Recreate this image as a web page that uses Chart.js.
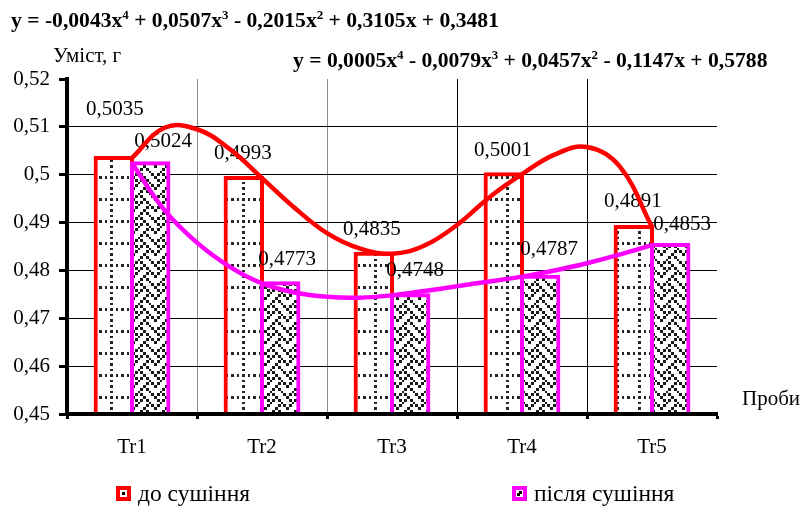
<!DOCTYPE html>
<html>
<head>
<meta charset="utf-8">
<script src="https://cdn.jsdelivr.net/npm/chart.js@4.4.1/dist/chart.umd.min.js"></script>
<style>
  html, body { margin: 0; padding: 0; background: #fff; }
  #wrap { position: relative; width: 803px; height: 506px; overflow: hidden;
          font-family: "Liberation Serif", "Times New Roman", serif; color: #000; }
  #chart { position: absolute; left: 0; top: 0; }
  .txt { position: absolute; white-space: nowrap; line-height: 1; }
  .eq { font-weight: bold; font-size: 21.6px; }
  .eq sup { font-size: 0.6em; vertical-align: 0.6em; line-height: 0; }
  .axis-title { font-size: 21px; }
  .legend-item { position: absolute; display: flex; align-items: center; font-size: 23.5px; line-height: 1; white-space: nowrap; }
  .swatch { width: 15px; height: 15px; box-sizing: border-box; border: 4px solid; background: #fff; position: relative; margin-right: 7px; }
  .swatch i { position: absolute; width: 3px; height: 3px; background: #000; }
</style>
</head>
<body>
<div id="wrap">
  <canvas id="chart" width="803" height="506"></canvas>
  <div class="txt eq" style="left:11px; top:10px;">y = -0,0043x<sup>4</sup> + 0,0507x<sup>3</sup> - 0,2015x<sup>2</sup> + 0,3105x + 0,3481</div>
  <div class="txt eq" style="left:293px; top:50px;">y = 0,0005x<sup>4</sup> - 0,0079x<sup>3</sup> + 0,0457x<sup>2</sup> - 0,1147x + 0,5788</div>
  <div class="txt axis-title" style="left:53px; top:45px;">Уміст, г</div>
  <div class="txt axis-title" style="left:742px; top:388px;">Проби</div>
  <div class="legend-item" style="left:116px; top:482px;">
    <span class="swatch" style="border-color:#ff0000;"><i style="left:2px; top:2px;"></i></span>до сушіння
  </div>
  <div class="legend-item" style="left:512px; top:482px;">
    <span class="swatch" style="border-color:#ff00ff;"><i style="left:3px; top:1px;"></i><i style="left:1px; top:3px;"></i></span>після сушіння
  </div>
</div>
<script>
// Samples and measured content (g)
const categories = ['Tr1', 'Tr2', 'Tr3', 'Tr4', 'Tr5'];
const beforeDrying = [0.5035, 0.4993, 0.4835, 0.5001, 0.4891];
const afterDrying = [0.5024, 0.4773, 0.4748, 0.4787, 0.4853];

// Polynomial trend lines (4th order), sampled along the sample axis
const trendSteps = [1, 1.25, 1.5, 1.75, 2, 2.25, 2.5, 2.75, 3, 3.25, 3.5, 3.75, 4, 4.25, 4.5, 4.75, 5];
const beforeTrend = [0.5035, 0.5098, 0.5095, 0.5054, 0.4993, 0.4931, 0.4878, 0.4846, 0.4835,
                     0.4852, 0.4895, 0.4953, 0.5001, 0.5042, 0.5058, 0.5018, 0.4891];
const afterTrend = [0.5024, 0.4926, 0.4858, 0.4808, 0.4773, 0.4754, 0.4745, 0.4743, 0.4748,
                    0.4757, 0.4767, 0.4777, 0.4787, 0.4800, 0.4815, 0.4833, 0.4853];

// Value axis
const yMin = 0.45, yMax = 0.52, yStep = 0.01;

const FONT = '"Liberation Serif", "Times New Roman", serif';
const comma = v => String(v).replace('.', ',');

// 8x8 hatch bitmaps, scaled up with hard edges
const dottedGrid = ['10101010', '00000000', '10000000', '00000000',
                    '10000000', '00000000', '10000000', '00000000'];
const weave = ['10001000', '01010100', '00100010', '01000101',
               '10001000', '00010100', '00100010', '01010001'];

const canvas = document.getElementById('chart');
const ctx = canvas.getContext('2d');

function hatch(bits, ink, tile) {
  const small = document.createElement('canvas');
  small.width = 8; small.height = 8;
  const s = small.getContext('2d');
  s.fillStyle = '#fff'; s.fillRect(0, 0, 8, 8);
  s.fillStyle = ink;
  bits.forEach((row, y) => { for (let x = 0; x < 8; x++) if (row[x] === '1') s.fillRect(x, y, 1, 1); });
  const big = document.createElement('canvas');
  big.width = tile; big.height = tile;
  const b = big.getContext('2d');
  b.imageSmoothingEnabled = false;
  b.drawImage(small, 0, 0, tile, tile);
  return ctx.createPattern(big, 'repeat');
}

// Category number (1..n) for each sample
const sampleNo = categories.map((_, i) => i + 1);

// Each pair of bars sits side by side around its category centre
const barWidth = 36.4;
const barShift = barWidth / 2 / 130;

const BARS_BEFORE = 0, BARS_AFTER = 1;

// Value labels above the bars, painted before the trend lines
const barValueLabels = {
  id: 'barValueLabels',
  afterDatasetDraw(chart, args, opts) {
    if (args.index !== BARS_AFTER) return;
    const c = chart.ctx;
    c.save();
    c.font = opts.font;
    c.fillStyle = '#000';
    c.textAlign = 'center';
    c.textBaseline = 'middle';
    opts.series.forEach(({ dataset, nudge }) => {
      const meta = chart.getDatasetMeta(dataset);
      const values = chart.data.datasets[dataset].data;
      meta.data.forEach((bar, i) => {
        c.fillText(values[i].y.toFixed(4).replace('.', ','), bar.x + nudge[i][0], bar.y + nudge[i][1]);
      });
    });
    c.restore();
  }
};

const xGridColors = ['rgba(0,0,0,0)', '#8c8c8c', '#8c8c8c', '#000000', '#000000'];

const barCommon = {
  borderWidth: 4,
  borderSkipped: 'start',
  inflateAmount: 2,
  grouped: false,
  barThickness: barWidth
};

const hiddenLinear = (shift) => ({
  type: 'linear', display: false, offset: false, bounds: 'data',
  min: 0.5 + shift, max: 5.5 + shift
});

new Chart(ctx, {
  type: 'bar',
  data: {
    labels: categories,
    datasets: [
      Object.assign({
        label: 'до сушіння',
        xAxisID: 'xBefore',
        data: sampleNo.map((n, i) => ({ x: n, y: beforeDrying[i] })),
        backgroundColor: hatch(dottedGrid, '#262626', 22),
        borderColor: '#ff0000',
        order: 2
      }, barCommon),
      Object.assign({
        label: 'після сушіння',
        xAxisID: 'xAfter',
        data: sampleNo.map((n, i) => ({ x: n, y: afterDrying[i] })),
        backgroundColor: hatch(weave, '#1a1a1a', 22),
        borderColor: '#ff00ff',
        order: 1
      }, barCommon),
      {
        type: 'line',
        label: 'trend до сушіння',
        xAxisID: 'xTrend',
        data: trendSteps.map((t, i) => ({ x: t, y: beforeTrend[i] })),
        borderColor: '#ff0000',
        borderWidth: 4.5,
        pointRadius: 0,
        tension: 0.4,
        fill: false,
        order: 0
      },
      {
        type: 'line',
        label: 'trend після сушіння',
        xAxisID: 'xTrend',
        data: trendSteps.map((t, i) => ({ x: t, y: afterTrend[i] })),
        borderColor: '#ff00ff',
        borderWidth: 4.5,
        pointRadius: 0,
        tension: 0.4,
        fill: false,
        order: 0
      }
    ]
  },
  options: {
    responsive: false,
    devicePixelRatio: 1,
    animation: false,
    events: [],
    layout: { padding: { top: 79, right: 86, bottom: 0, left: 0 } },
    plugins: {
      legend: { display: false },
      tooltip: { enabled: false },
      barValueLabels: {
        font: '21px ' + FONT,
        series: [
          { dataset: BARS_BEFORE, nudge: [[1, -48], [-1, -25], [-2, -24], [-1, -24], [-1, -25]] },
          { dataset: BARS_AFTER, nudge: [[13, -22], [7, -24], [5, -25], [9, -27], [12, -21]] }
        ]
      }
    },
    scales: {
      x: {
        type: 'category',
        offset: true,
        grid: {
          offset: true,
          color: c => (c.index === undefined ? 'rgba(0,0,0,0)' : xGridColors[c.index]),
          lineWidth: 1,
          tickLength: 5,
          tickWidth: 3,
          tickColor: '#000'
        },
        border: { display: true, color: '#000', width: 4, z: 1 },
        ticks: { color: '#000', font: { family: FONT, size: 21 }, padding: 16, maxRotation: 0 },
        afterFit: s => { s.height = 92; }
      },
      xBefore: hiddenLinear(barShift),
      xAfter: hiddenLinear(-barShift),
      xTrend: hiddenLinear(0),
      y: {
        min: yMin,
        max: yMax,
        ticks: {
          stepSize: yStep,
          color: '#000',
          font: { family: FONT, size: 21 },
          padding: 9,
          callback: v => comma(Math.round(v * 100) / 100)
        },
        grid: {
          color: c => (c.tick && c.tick.value > yMax - yStep / 2) ? 'rgba(0,0,0,0)' : '#000',
          lineWidth: 1,
          tickLength: 8,
          tickWidth: 3,
          tickColor: '#000'
        },
        border: { display: true, color: '#000', width: 4, z: 1 },
        afterFit: s => { s.width = 67; }
      }
    }
  },
  plugins: [barValueLabels]
});
</script>
</body>
</html>
